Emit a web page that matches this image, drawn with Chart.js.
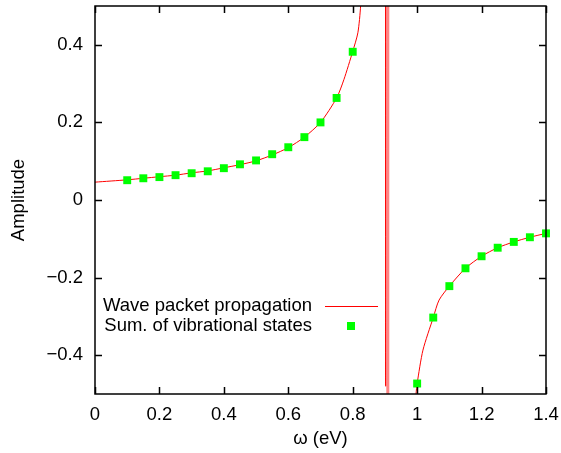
<!DOCTYPE html>
<html lang="en">
<head>
    <meta charset="UTF-8">
    <title>Amplitude</title>
    <style>
        body { margin: 0; background: #fff; }
        #chart-container { width: 561px; height: 453px; }
    </style>
</head>
<body>
    <div id="chart-container">
        <canvas id="myChart" width="561" height="453"></canvas>
    </div>

    <script src="https://cdn.jsdelivr.net/npm/chart.js@4/dist/chart.umd.min.js"></script>

    <script>
        // Данные
        const lineX = [0, 0.1, 0.15, 0.2, 0.25, 0.3, 0.35, 0.4, 0.45, 0.5, 0.55, 0.6, 0.65, 0.7, 0.75, 0.7725, 0.8, 0.816, 0.8245,
                       0.85, 0.88, 0.9, 0.9023, 0.9023, 0.9023, 0.9105, 0.9105,
                       0.96, 0.985, 0.9966, 1.0, 1.018, 1.05, 1.068, 1.1, 1.15, 1.2, 1.25, 1.3, 1.35, 1.4];
        const lineY = [0.046, 0.052, 0.056, 0.06, 0.064, 0.07, 0.075, 0.083, 0.091, 0.101, 0.116, 0.135, 0.162, 0.2, 0.263, 0.31, 0.383, 0.431, 0.5,
                       0.9, 2, 10, 40, -0.48, 40, 40, -40,
                       -1.5, -0.62, -0.499, -0.473, -0.387, -0.303, -0.258, -0.222, -0.176, -0.145, -0.123, -0.108, -0.096, -0.086];

        const sumX1 = [0.1, 0.15, 0.2, 0.25, 0.3, 0.35, 0.4, 0.45, 0.5, 0.55, 0.6, 0.65, 0.7, 0.75, 0.8];
        const sumY1 = [0.051, 0.056, 0.059, 0.064, 0.069, 0.074, 0.082, 0.092, 0.102, 0.118, 0.136, 0.162, 0.2, 0.263, 0.382];
        const sumX2 = [1.0, 1.05, 1.1, 1.15, 1.2, 1.25, 1.3, 1.35, 1.4];
        const sumY2 = [-0.473, -0.303, -0.222, -0.176, -0.145, -0.123, -0.108, -0.096, -0.086];

        const xTicks = [0, 0.2, 0.4, 0.6, 0.8, 1.0, 1.2, 1.4];
        const yTicks = [-0.4, -0.2, 0, 0.2, 0.4];

        const legendLabels = ['Wave packet propagation', 'Sum. of vibrational states'];
        const xTitle = 'ω (eV)';
        const yTitle = 'Amplitude';

        const RED = '#ff0000';
        const GREEN = '#00ff00';
        const FONT = { family: "'Liberation Sans', Arial, sans-serif", size: 18.5 };

        const fmt = v => String(+v.toFixed(1)).replace('-', '\u2212');

        const linePoints = lineX.map((x, i) => ({ x, y: lineY[i] }));
        const sumPoints = sumX1.map((x, i) => ({ x, y: sumY1[i] }))
            .concat(sumX2.map((x, i) => ({ x, y: sumY2[i] })));

        // вертикальный сегмент резонанса (толстая полоса)
        const isBand = c => c.p0.parsed.x === c.p1.parsed.x && c.p0.parsed.x > 0.905;

        // Рамка, тики внутрь и легенда в стиле gnuplot
        const framePlugin = {
            id: 'frame',
            afterDatasetsDraw(chart) {
                const { ctx, chartArea: a, scales } = chart;
                const tl = 7;
                ctx.save();
                ctx.strokeStyle = '#000';
                ctx.lineWidth = 1.5;
                ctx.beginPath();
                xTicks.forEach(v => {
                    const px = Math.round(scales.x.getPixelForValue(v)) + 0.5;
                    ctx.moveTo(px, a.bottom); ctx.lineTo(px, a.bottom - tl);
                    ctx.moveTo(px, a.top); ctx.lineTo(px, a.top + tl);
                });
                yTicks.forEach(v => {
                    const py = Math.round(scales.y.getPixelForValue(v)) + 0.5;
                    ctx.moveTo(a.left, py); ctx.lineTo(a.left + tl, py);
                    ctx.moveTo(a.right, py); ctx.lineTo(a.right - tl, py);
                });
                ctx.stroke();
                ctx.strokeRect(a.left, a.top, a.right - a.left, a.bottom - a.top);

                // легенда
                const textRight = a.left + 217;
                const y0 = a.top + 300;
                const dy = 20;
                ctx.font = FONT.size + 'px ' + FONT.family;
                ctx.fillStyle = '#000';
                ctx.textAlign = 'right';
                ctx.textBaseline = 'middle';
                ctx.fillText(legendLabels[0], textRight, y0);
                ctx.fillText(legendLabels[1], textRight, y0 + dy);
                ctx.strokeStyle = RED;
                ctx.lineWidth = 1;
                ctx.beginPath();
                ctx.moveTo(a.left + 230, y0 + 0.5);
                ctx.lineTo(a.left + 283, y0 + 0.5);
                ctx.stroke();
                ctx.fillStyle = GREEN;
                ctx.fillRect(a.left + 252, y0 + dy - 4, 8, 8);
                ctx.restore();
            }
        };

        const ctx = document.getElementById('myChart').getContext('2d');
        const myChart = new Chart(ctx, {
            type: 'scatter',
            data: {
                datasets: [
                    {
                        label: legendLabels[1],
                        data: sumPoints,
                        showLine: false,
                        pointStyle: 'rect',
                        pointRadius: 5.6,
                        pointBorderWidth: 0,
                        backgroundColor: GREEN,
                        borderColor: GREEN,
                        clip: 10
                    },
                    {
                        label: legendLabels[0],
                        data: linePoints,
                        showLine: true,
                        borderColor: RED,
                        borderWidth: 1,
                        pointRadius: 0,
                        tension: 0.25,
                        capBezierPoints: false,
                        segment: {
                            borderWidth: c => isBand(c) ? 3 : 1,
                            borderColor: c => isBand(c) ? 'rgba(255,50,50,0.6)' : RED
                        }
                    }
                ]
            },
            options: {
                responsive: false,
                animation: false,
                events: [],
                layout: { padding: { left: 0, right: 15, top: 6, bottom: 0 } },
                plugins: {
                    legend: { display: false },
                    tooltip: { enabled: false }
                },
                scales: {
                    x: {
                        type: 'linear',
                        min: 0,
                        max: 1.4,
                        afterBuildTicks: s => { s.ticks = xTicks.map(v => ({ value: v })); },
                        afterFit: s => { s.height = 59; s.paddingLeft = 0; s.paddingRight = 0; },
                        grid: { display: false, drawTicks: false },
                        border: { display: false },
                        ticks: { font: FONT, color: '#000', padding: 10, maxRotation: 0, callback: fmt },
                        title: { display: true, text: xTitle, font: FONT, color: '#000', padding: { top: 0, bottom: 3 } }
                    },
                    y: {
                        type: 'linear',
                        min: -0.5,
                        max: 0.5,
                        afterBuildTicks: s => { s.ticks = yTicks.map(v => ({ value: v })); },
                        afterFit: s => { s.width = 95; s.paddingTop = 0; s.paddingBottom = 0; },
                        grid: { display: false, drawTicks: false },
                        border: { display: false },
                        ticks: { font: FONT, color: '#000', padding: 12, callback: fmt },
                        title: { display: true, text: yTitle, font: FONT, color: '#000', padding: { top: 8, bottom: 0 } }
                    }
                }
            },
            plugins: [framePlugin]
        });
    </script>
</body>
</html>
